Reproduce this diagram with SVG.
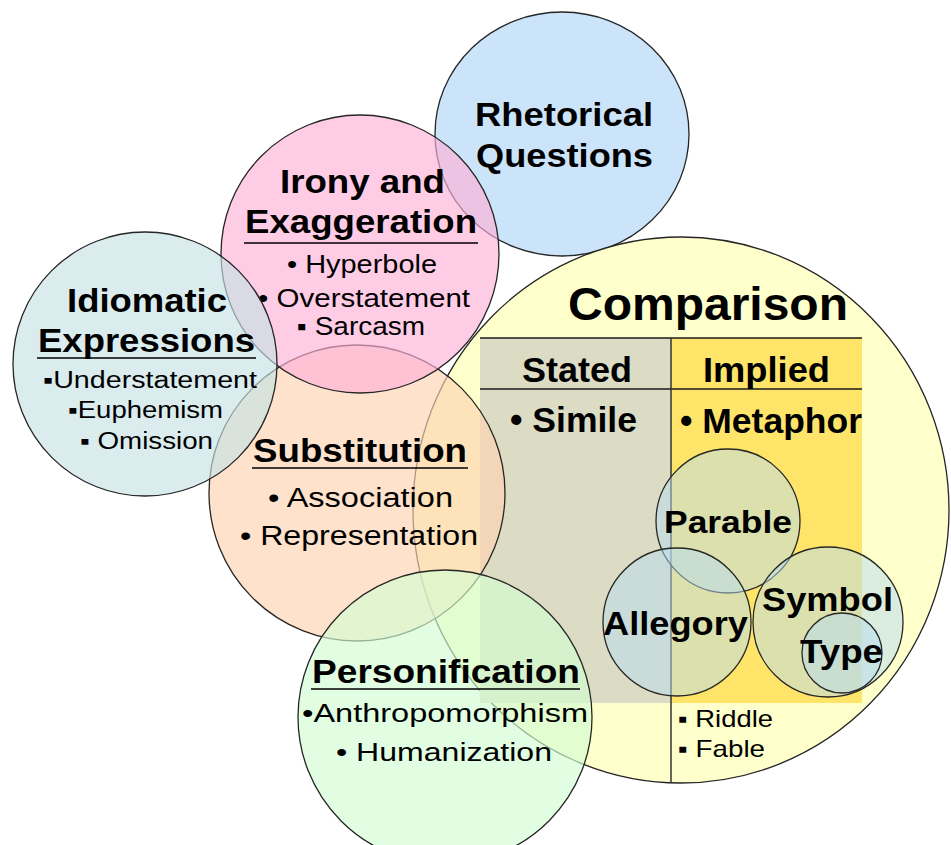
<svg xmlns="http://www.w3.org/2000/svg" width="951" height="845" viewBox="0 0 951 845">
<style>
.c{stroke:#262626;stroke-width:1.3;fill-opacity:0.65}
.ci{stroke:#262626;stroke-width:1.3;fill:#b8dcef;fill-opacity:0.5}
.h{font-family:"Liberation Sans",Arial,sans-serif;font-weight:bold;font-size:34px;fill:#000}
.b{font-family:"Liberation Sans",Arial,sans-serif;font-size:25px;fill:#000}
.s{font-family:"Liberation Sans",Arial,sans-serif;font-size:23px;fill:#000}
.u{stroke:#000;stroke-width:1.6}
.tl{stroke:#1a1a1a;stroke-width:1.5}
</style>
<rect width="951" height="845" fill="#fff"/>
<g id="connectors"></g>
<g id="rhetorical">
<ellipse class="c" cx="562" cy="134" rx="127" ry="122" fill="#b1d5f7"/>
<text class="h" x="475" y="126" textLength="178" lengthAdjust="spacingAndGlyphs">Rhetorical</text>
<text class="h" x="476" y="167" textLength="177" lengthAdjust="spacingAndGlyphs">Questions</text>
</g>
<g id="comparison">
<ellipse cx="681" cy="510" rx="268" ry="273" fill="#ffffcc" stroke="#262626" stroke-width="1.3"/>
<rect x="480" y="338" width="191" height="365" fill="#dcdcc4"/>
<rect x="671" y="338" width="191" height="365" fill="#ffe46a"/>
<line class="tl" x1="480" y1="338" x2="862" y2="338"/>
<line class="tl" x1="480" y1="389" x2="862" y2="389"/>
<line x1="671" y1="338" x2="671" y2="783" stroke="#333" stroke-width="1.5"/>
<text class="h" x="568" y="320" style="font-size:47px" textLength="280" lengthAdjust="spacingAndGlyphs">Comparison</text>
<text class="h" x="522" y="382" style="font-size:35px" textLength="110" lengthAdjust="spacingAndGlyphs">Stated</text>
<text class="h" x="703" y="382" style="font-size:35px" textLength="127" lengthAdjust="spacingAndGlyphs">Implied</text>
<text class="h" x="510" y="432" style="font-size:35px" textLength="127" lengthAdjust="spacingAndGlyphs">• Simile</text>
<text class="h" x="680" y="433" style="font-size:35px" textLength="182" lengthAdjust="spacingAndGlyphs">• Metaphor</text>
<text class="s" x="678" y="727" style="font-size:24px" textLength="95" lengthAdjust="spacingAndGlyphs">▪ Riddle</text>
<text class="s" x="678" y="757" style="font-size:24px" textLength="87" lengthAdjust="spacingAndGlyphs">▪ Fable</text>
</g>
<g id="parable">
<circle class="ci" cx="728" cy="521" r="72"/>
<text class="h" x="664" y="533" style="font-size:32px" textLength="128" lengthAdjust="spacingAndGlyphs">Parable</text>
</g>
<g id="allegory">
<circle class="ci" cx="677" cy="622" r="74"/>
<text class="h" x="603" y="635" style="font-size:33px" textLength="145" lengthAdjust="spacingAndGlyphs">Allegory</text>
</g>
<g id="symbol">
<circle class="ci" cx="828" cy="622" r="75"/>
<text class="h" x="762" y="611" style="font-size:33px" textLength="131" lengthAdjust="spacingAndGlyphs">Symbol</text>
</g>
<g id="type">
<circle class="ci" cx="842" cy="653" r="40"/>
<text class="h" x="800" y="663" style="font-size:33px" textLength="83" lengthAdjust="spacingAndGlyphs">Type</text>
</g>
<g id="substitution">
<circle class="c" cx="357" cy="493" r="148" fill="#fed2b1"/>
<text class="h" x="253" y="462" textLength="214" lengthAdjust="spacingAndGlyphs">Substitution</text>
<line class="u" x1="252" y1="468" x2="468" y2="468"/>
<text class="b" x="268" y="507" style="font-size:27px" textLength="185" lengthAdjust="spacingAndGlyphs">• Association</text>
<text class="b" x="240" y="545" style="font-size:27px" textLength="238" lengthAdjust="spacingAndGlyphs">• Representation</text>
</g>
<g id="personification">
<circle class="c" cx="445" cy="717" r="147" fill="#d2fed2"/>
<text class="h" x="312" y="683" textLength="268" lengthAdjust="spacingAndGlyphs">Personification</text>
<line class="u" x1="311" y1="689" x2="580" y2="689"/>
<text class="b" x="302" y="722" style="font-size:26px" textLength="286" lengthAdjust="spacingAndGlyphs">•Anthropomorphism</text>
<text class="b" x="336" y="761" style="font-size:26px" textLength="216" lengthAdjust="spacingAndGlyphs">• Humanization</text>
</g>
<g id="irony">
<circle class="c" cx="360" cy="254" r="139" fill="#ffb1d9"/>
<text class="h" x="280" y="193" textLength="165" lengthAdjust="spacingAndGlyphs">Irony and</text>
<text class="h" x="245" y="233" textLength="232" lengthAdjust="spacingAndGlyphs">Exaggeration</text>
<line class="u" x1="244" y1="243" x2="478" y2="243"/>
<text class="b" x="287" y="273" textLength="150" lengthAdjust="spacingAndGlyphs">• Hyperbole</text>
<text class="b" x="258" y="307" textLength="212" lengthAdjust="spacingAndGlyphs">• Overstatement</text>
<text class="b" x="297" y="335" textLength="128" lengthAdjust="spacingAndGlyphs">▪ Sarcasm</text>
</g>
<g id="idiomatic">
<circle class="c" cx="145" cy="364" r="132" fill="#c6e2e5"/>
<text class="h" x="67" y="312" textLength="160" lengthAdjust="spacingAndGlyphs">Idiomatic</text>
<text class="h" x="38" y="352" textLength="217" lengthAdjust="spacingAndGlyphs">Expressions</text>
<line class="u" x1="37" y1="358" x2="256" y2="358"/>
<text class="s" x="43" y="388" textLength="214" lengthAdjust="spacingAndGlyphs">▪Understatement</text>
<text class="s" x="68" y="418" textLength="155" lengthAdjust="spacingAndGlyphs">▪Euphemism</text>
<text class="s" x="80" y="449" textLength="133" lengthAdjust="spacingAndGlyphs">▪ Omission</text>
</g>
</svg>
